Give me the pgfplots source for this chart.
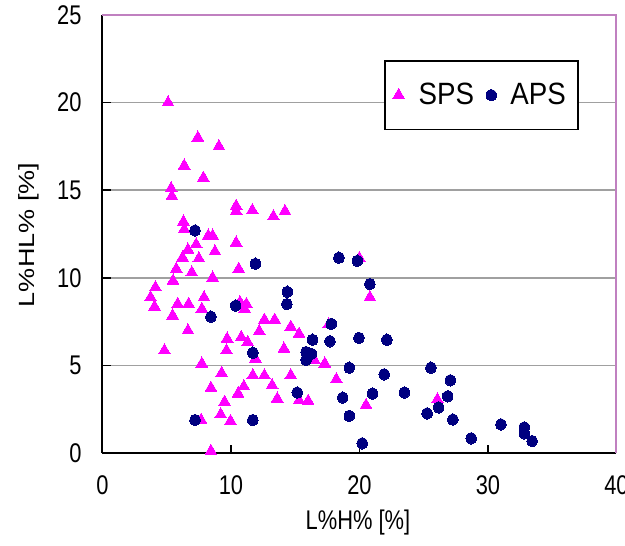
\documentclass[border=0pt]{standalone}
\usepackage{fontspec}
\setmainfont{Liberation Sans}[FakeStretch=0.81]
\newfontfamily\ylfont{Liberation Sans}[FakeStretch=1.23]
\newfontfamily\legfont{Liberation Sans}[FakeStretch=0.9]
\usepackage{pgfplots}
\pgfplotsset{compat=1.18}
\definecolor{sps}{RGB}{255,0,255}
\definecolor{aps}{RGB}{0,0,128}
\definecolor{framec}{RGB}{192,128,192}
\definecolor{gridc}{RGB}{160,160,160}
\begin{document}
\begin{tikzpicture}
\useasboundingbox (-51.25pt,-46pt) rectangle (261.25pt,226.5pt);
\begin{axis}[
 scale only axis, width=257pt, height=219pt,
 xmin=0, xmax=40, ymin=0, ymax=25,
 xtick={0,10,20,30,40}, ytick={0,5,10,15,20,25},
 axis x line*=bottom, axis y line*=left,
 axis line style={black, line width=1pt},
 tick align=inside, major tick length=4pt,
 tick style={black, line width=0.8pt},
 ymajorgrids, major grid style={gridc, line width=0.75pt},
 /pgf/number format/assume math mode=true,
 tick label style={font=\fontsize{13.5}{16}\selectfont},
 xticklabel style={yshift=-8pt},
 yticklabel style={xshift=-7pt},
 xlabel={L\%H\% [\%]}, ylabel={L\%HL\% [\%]},
 xlabel style={font=\fontsize{13.5}{16}\selectfont, at={(axis description cs:0.497,-0.158)}, anchor=center},
 ylabel style={font=\ylfont\fontsize{11}{13}\selectfont, at={(axis description cs:-0.143,0.498)}, anchor=center},
 clip=false,
 legend columns=2,
 legend style={at={(0.737,0.817)}, anchor=center, draw=black, line width=0.75pt, fill=white,
   font=\legfont\fontsize{15.4}{18}\selectfont, inner xsep=4pt, inner ysep=9pt,
   /tikz/every odd column/.append style={column sep=5pt},
   /tikz/every even column/.append style={column sep=4pt}},
]
\addplot[only marks, mark=triangle*, mark size=3.4pt, mark options={fill=sps, draw=sps, line width=0pt}] table {
x y
5.1 20.0
7.42 18.0
9.06 17.5
6.36 16.4
7.85 15.7
5.34 15.1
5.4 14.66
10.4 14.1
10.4 13.8
11.66 13.85
13.3 13.5
14.2 13.8
6.3 13.2
6.36 12.77
8.23 12.4
8.57 12.4
10.4 12.0
7.29 11.9
6.65 11.6
8.75 11.5
7.5 11.1
6.23 11.15
5.74 10.5
6.95 10.3
10.6 10.5
5.49 9.83
8.57 10.0
4.12 9.45
3.74 8.88
4.05 8.35
5.85 8.5
6.7 8.5
7.9 8.88
7.73 8.22
5.46 7.84
10.7 8.6
11.2 8.5
11.06 8.22
6.65 6.99
4.82 5.85
9.7 6.52
9.65 5.85
10.8 6.61
11.3 6.32
12.2 6.95
12.6 7.6
13.4 7.6
11.9 5.38
7.73 5.1
9.27 4.56
11.7 4.43
12.6 4.43
13.2 3.86
13.6 3.1
8.44 3.71
11.0 3.8
10.55 3.39
9.5 2.91
9.2 2.2
9.96 1.82
7.67 1.88
8.44 0.11
14.65 7.2
15.3 6.8
17.6 7.33
14.12 5.95
16.5 5.28
17.3 5.1
14.65 4.43
18.2 4.2
15.3 3.0
16.0 2.97
20.51 2.73
26.06 3.05
19.99 11.12
20.81 8.88
};
\addlegendentry{SPS}
\addplot[only marks, mark=*, mark size=2.6pt, mark options={fill=aps, draw=aps, line width=0pt, yscale=1.12}] table {
x y
7.2 12.7
11.9 10.8
10.37 8.41
8.44 7.78
11.7 5.72
7.2 1.88
11.7 1.88
14.38 9.2
14.35 8.5
18.4 11.15
19.83 10.97
20.81 9.64
17.8 7.37
16.35 6.46
17.7 6.38
19.96 6.57
22.13 6.46
15.84 5.76
16.25 5.66
15.84 5.32
19.2 4.87
21.92 4.49
15.15 3.45
18.7 3.16
21.02 3.39
23.49 3.45
19.2 2.12
20.21 0.55
25.56 4.87
27.07 4.15
26.87 3.24
26.16 2.6
25.26 2.26
27.27 1.91
28.69 0.84
31.01 1.63
32.82 1.46
32.82 1.12
33.43 0.68
};
\addlegendentry{APS}
\draw[framec, line width=1pt] (rel axis cs:0,1) -- (rel axis cs:1,1) -- (rel axis cs:1,0);
\end{axis}
\end{tikzpicture}
\end{document}
